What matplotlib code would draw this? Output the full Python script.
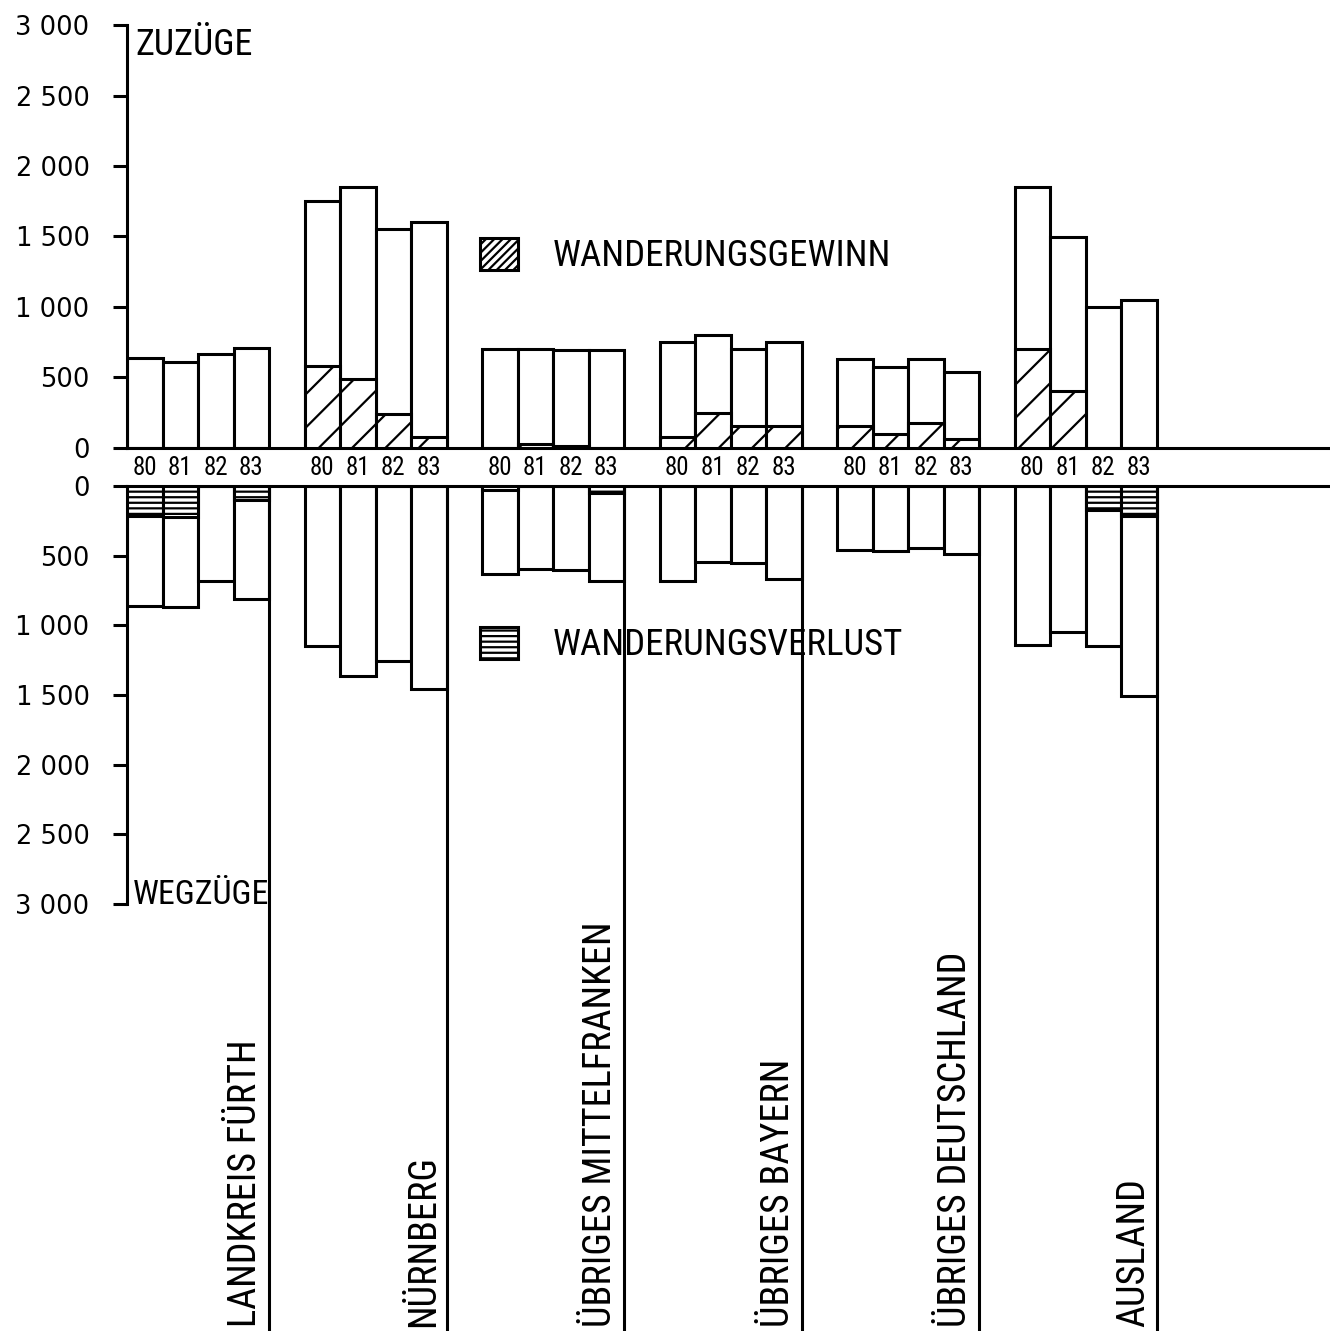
import matplotlib
matplotlib.use("Agg")
import matplotlib.pyplot as plt
import matplotlib.transforms as mtransforms
from matplotlib.patches import Patch

# ---------------- data ----------------
groups = ["LANDKREIS FÜRTH", "NÜRNBERG", "ÜBRIGES MITTELFRANKEN",
          "ÜBRIGES BAYERN", "ÜBRIGES DEUTSCHLAND", "AUSLAND"]
years = ["80", "81", "82", "83"]

# Zuzüge (in-migration) per group and year
zuzuege = [
    [640, 610, 665, 710],
    [1750, 1850, 1555, 1605],
    [700, 700, 695, 695],
    [750, 800, 700, 750],
    [630, 575, 630, 540],
    [1850, 1495, 1000, 1050],
]
# Wanderungsgewinn (net gain, hatched part of upper bars)
gewinn = [
    [0, 0, 0, 0],
    [580, 490, 240, 80],
    [0, 30, 15, 0],
    [80, 250, 155, 155],
    [155, 100, 175, 65],
    [700, 405, 0, 0],
]
# Wegzüge (out-migration) per group and year
wegzuege = [
    [860, 865, 680, 810],
    [1145, 1365, 1255, 1460],
    [635, 595, 600, 685],
    [685, 545, 550, 665],
    [460, 470, 445, 485],
    [1140, 1050, 1145, 1505],
]
# Wanderungsverlust (net loss, lined part of lower bars)
verlust = [
    [215, 220, 0, 100],
    [0, 0, 0, 0],
    [30, 0, 0, 50],
    [0, 0, 0, 0],
    [0, 0, 0, 0],
    [0, 0, 170, 215],
]

ticks = [0, 500, 1000, 1500, 2000, 2500, 3000]
tick_labels = ["0", "500", "1 000", "1 500", "2 000", "2 500", "3 000"]

# ---------------- layout ----------------
NARROW = ["Roboto Condensed", "DejaVu Sans"]
plt.rcParams["font.family"] = NARROW
plt.rcParams["hatch.linewidth"] = 1.6

W, H = 1330, 1331
fig = plt.figure(figsize=(W / 100, H / 100), dpi=100)
LW = 2.2

x_left_px = 127
bar_px = 35.5
ax_w = (W - x_left_px) / W
xmax = (W - x_left_px) / bar_px

up0, up3000 = 448, 25
lo0, lo3000 = 486, 904
ax_up = fig.add_axes([x_left_px / W, 1 - up0 / H, ax_w, (up0 - up3000) / H])
ax_lo = fig.add_axes([x_left_px / W, 0, ax_w, 1 - lo0 / H])
for ax in (ax_up, ax_lo):
    ax.set_facecolor("none")
    ax.set_xlim(0, xmax)

ax_up.set_ylim(0, 3000)
ybot = 3000 * (H - lo0) / (lo3000 - lo0)
ax_lo.set_ylim(ybot, 0)

nyear = len(years)
centers = []
for g in range(len(groups)):
    xs = [g * (nyear + 1) + i for i in range(nyear)]
    centers += [x + 0.5 for x in xs]
    ax_up.bar(xs, zuzuege[g], width=1, align="edge", facecolor="white",
              edgecolor="black", lw=LW, zorder=2)
    gx = [x for x, v in zip(xs, gewinn[g]) if v > 0]
    gv = [v for v in gewinn[g] if v > 0]
    if gx:
        ax_up.bar(gx, gv, width=1, align="edge", facecolor="white",
                  edgecolor="black", lw=LW, hatch="/", zorder=3)
    ax_lo.bar(xs, wegzuege[g], width=1, align="edge", facecolor="white",
              edgecolor="black", lw=LW, zorder=2)
    lx = [x for x, v in zip(xs, verlust[g]) if v > 0]
    lv = [v for v in verlust[g] if v > 0]
    if lx:
        ax_lo.bar(lx, lv, width=1, align="edge", facecolor="white",
                  edgecolor="black", lw=LW, hatch="---", zorder=3)

# separator lines below each group
sep_x = [g * (nyear + 1) + nyear for g in range(len(groups))]
ax_lo.vlines(sep_x, 0, ybot, color="black", lw=LW, zorder=4)

# spines / ticks upper
ax_up.spines["top"].set_visible(False)
ax_up.spines["right"].set_visible(False)
for s in ("left", "bottom"):
    ax_up.spines[s].set_linewidth(LW)
ax_up.set_yticks(ticks)
ax_up.set_yticklabels(tick_labels, family="DejaVu Sans", fontsize=18.5)
ax_up.tick_params(axis="y", direction="out", length=10, width=LW, pad=17)
ax_up.set_xticks(centers)
ax_up.set_xticklabels(years * len(groups), fontsize=18)
ax_up.tick_params(axis="x", length=0, pad=6)

# spines / ticks lower
ax_lo.spines["bottom"].set_visible(False)
ax_lo.spines["right"].set_visible(False)
ax_lo.spines["left"].set_bounds(0, 3000)
for s in ("left", "top"):
    ax_lo.spines[s].set_linewidth(LW)
ax_lo.set_yticks(ticks)
ax_lo.set_yticklabels(tick_labels, family="DejaVu Sans", fontsize=18.5)
ax_lo.tick_params(axis="y", direction="out", length=10, width=LW, pad=17)
ax_lo.set_xticks([])

# axis titles
ax_up.text(0.0066, 0.929, "ZUZÜGE", transform=ax_up.transAxes,
           ha="left", va="baseline", fontsize=26)
tr_lo = mtransforms.blended_transform_factory(ax_lo.transAxes, ax_lo.transData)
ax_lo.text(0.005, 3000, "WEGZÜGE", transform=tr_lo,
           ha="left", va="baseline", fontsize=24.5)

# group labels
tr_lab = mtransforms.blended_transform_factory(ax_lo.transData, ax_lo.transAxes)
for g, name in enumerate(groups):
    ax_lo.text(g * (nyear + 1) + nyear - 0.65, 0.005, name, transform=tr_lab,
               rotation=90, ha="center", va="bottom", fontsize=27.5)

# legends
fs_leg = 26.5
em = fs_leg * 100 / 72
common = dict(loc="center left", frameon=False, handlelength=38 / em,
              handleheight=36 / em, handletextpad=35 / em, borderpad=0,
              borderaxespad=0, prop={"family": NARROW, "size": fs_leg})
fig.legend(handles=[Patch(facecolor="white", edgecolor="black", hatch="////", lw=LW)],
           labels=["WANDERUNGSGEWINN"], bbox_to_anchor=(480 / W, 1 - 256 / H), **common)
fig.legend(handles=[Patch(facecolor="white", edgecolor="black", hatch="---", lw=LW)],
           labels=["WANDERUNGSVERLUST"], bbox_to_anchor=(480 / W, 1 - 645 / H), **common)

fig.savefig("out.png", dpi=100, facecolor="white")
